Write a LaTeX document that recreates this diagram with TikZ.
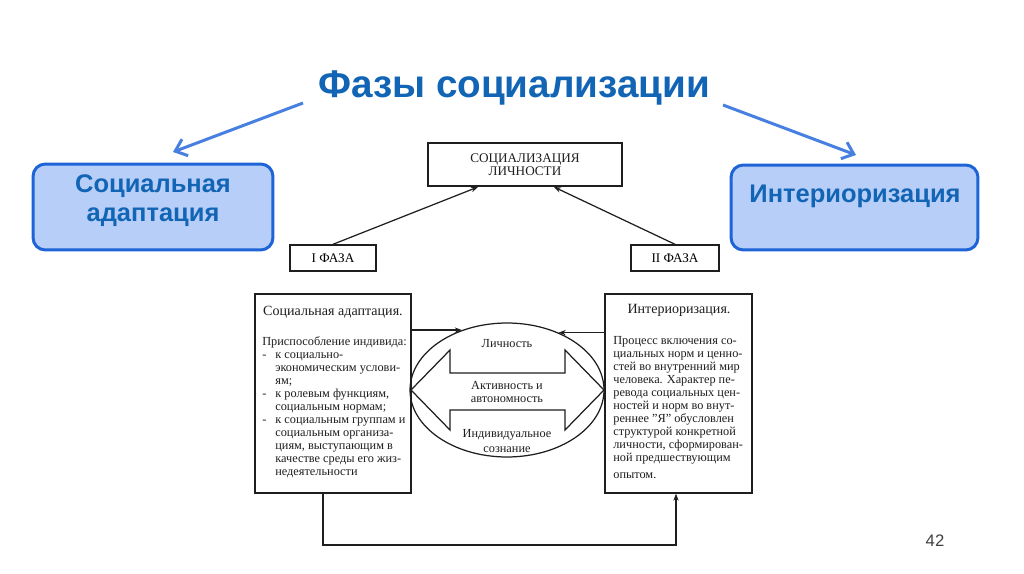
\documentclass[tikz,border=0pt]{standalone}
\usepackage{fontspec}
\setmainfont{Liberation Serif}
\newfontfamily\slidefont{Liberation Sans}
\usetikzlibrary{arrows.meta, shapes.geometric, calc, positioning}

\definecolor{titleblue}{RGB}{18,100,180}
\definecolor{boxfill}{RGB}{183,206,248}
\definecolor{boxline}{RGB}{30,100,215}
\definecolor{arrowblue}{RGB}{72,128,225}
\definecolor{scanline}{RGB}{30,30,30}

\newcommand{\lidash}{\makebox[0.26cm][l]{-}}
\newcommand{\liskip}{\hspace*{0.26cm}}

\tikzset{
  bluebox/.style={draw=boxline, fill=boxfill, line width=1.7pt, rounded corners=7pt},
  bluetext/.style={text=titleblue, font=\slidefont\bfseries\fontsize{14.5}{16.5}\selectfont, align=center, inner sep=0pt},
  bluearrow/.style={draw=arrowblue, line width=1.7pt, -{Straight Barb[length=6pt, width=10pt, line width=1.7pt]}},
  scanbox/.style={draw=scanline, line width=0.8pt, inner sep=0pt},
  scantext/.style={text=scanline, inner sep=0pt, align=center},
  scanarrow/.style={draw=scanline, line width=0.7pt, -{Stealth[length=4pt, width=3pt]}}
}

\begin{document}
\begin{tikzpicture}[x=0.02cm, y=-0.02cm]
  \useasboundingbox[fill=white] (0,0) rectangle (1024,574);

  % slide title and its two phases
  \node[text=titleblue, font=\slidefont\bfseries\fontsize{22}{26}\selectfont] (title) at (514,88) {Фазы социализации};
  \node[bluebox, minimum width=4.8cm, minimum height=1.72cm] (adapt) at (153,207) {};
  \node[bluetext, font=\slidefont\bfseries\fontsize{14.5}{16.4}\selectfont] (adapttext) at (153,200.5) {Социальная\\адаптация};
  \node[bluebox, minimum width=4.94cm, minimum height=1.7cm] (inter) at (854.5,207.5) {};
  \node[bluetext] (intertext) at (855,196) {Интериоризация};
  \coordinate (tl) at (303,103);
  \coordinate (al) at (173,152);
  \coordinate (tr) at (723,105);
  \coordinate (ar) at (856,155);
  \draw[bluearrow] (tl) -- (al);
  \draw[bluearrow] (tr) -- (ar);

  % scanned scheme
  \node[scanbox, minimum width=3.88cm, minimum height=0.86cm] (soc) at (525,164.5) {};
  \node[scantext, font=\fontsize{7.5}{7.4}\selectfont] (soctext) at (525,165) {СОЦИАЛИЗАЦИЯ\\ЛИЧНОСТИ};
  \node[scanbox, minimum width=1.72cm, minimum height=0.52cm, font=\fontsize{7.5}{9}\selectfont] (ph1) at (333,258) {I ФАЗА};
  \node[scanbox, minimum width=1.76cm, minimum height=0.52cm, font=\fontsize{7.5}{9}\selectfont] (ph2) at (675,258) {II ФАЗА};
  \coordinate (s1) at (478,187);
  \coordinate (s2) at (554,187);
  \draw[scanarrow] (ph1.north) -- (s1);
  \draw[scanarrow] (ph2.north) -- (s2);

  \node[scanbox, minimum width=3.12cm, minimum height=3.98cm] (lbox) at (333,393.5) {};
  \node[scantext, font=\fontsize{8}{9}\selectfont] (lhead) at (333,312) {Социальная адаптация.};
  \node[scantext, align=left, anchor=north west, font=\fontsize{7}{7.4}\selectfont] (lbody) at (262,336) {%
    Приспособление индивида:\\
    \lidash к социально-\\
    \liskip экономическим услови-\\
    \liskip ям;\\
    \lidash к ролевым функциям,\\
    \liskip социальным нормам;\\
    \lidash к социальным группам и\\
    \liskip социальным организа-\\
    \liskip циям, выступающим в\\
    \liskip качестве среды его жиз-\\
    \liskip недеятельности};

  \node[scanbox, minimum width=2.94cm, minimum height=3.98cm] (rbox) at (678.5,393.5) {};
  \node[scantext, font=\fontsize{8}{9}\selectfont] (rhead) at (679,310) {Интериоризация.};
  \node[scantext, align=left, anchor=north west, font=\fontsize{7}{7.4}\selectfont] (rbody) at (613,336) {%
    Процесс включения со-\\
    циальных норм и ценно-\\
    стей во внутренний мир\\
    человека. Характер пе-\\
    ревода социальных цен-\\
    ностей и норм во внут-\\
    реннее "Я" обусловлен\\
    структурой конкретной\\
    личности, сформирован-\\
    ной предшествующим\\[2.5pt]
    опытом.};

  % personality in the middle
  \node[ellipse, draw=scanline, line width=0.7pt, minimum width=3.88cm, minimum height=2.68cm, inner sep=0pt] (pers) at (507,390) {};
  \draw[draw=scanline, line width=0.7pt] (411,390) -- (450,350) -- (450,373) -- (565,373) -- (565,350)
    -- (604,390) -- (565,430) -- (565,410) -- (450,410) -- (450,430) -- cycle;
  \node[scantext, font=\fontsize{7}{8}\selectfont] (lich) at (507,344) {Личность};
  \node[scantext, font=\fontsize{7}{7.6}\selectfont] (aktiv) at (507,392) {Активность и\\автономность};
  \node[scantext, font=\fontsize{7}{8.3}\selectfont] (soz) at (507,441) {Индивидуальное\\сознание};

  \draw[scanarrow] (pers.127 -| lbox.east) -- (pers.127);
  \draw[scanarrow] (pers.48 -| rbox.west) -- (pers.48);
  \draw[scanarrow] (lbox.south -| 323,0) |- (676,545) -- (rbox.south -| 676,0);

  % slide number
  \node[text=black!75, font=\slidefont\fontsize{9.5}{11}\selectfont] (num) at (935,541) {42};
\end{tikzpicture}
\end{document}
